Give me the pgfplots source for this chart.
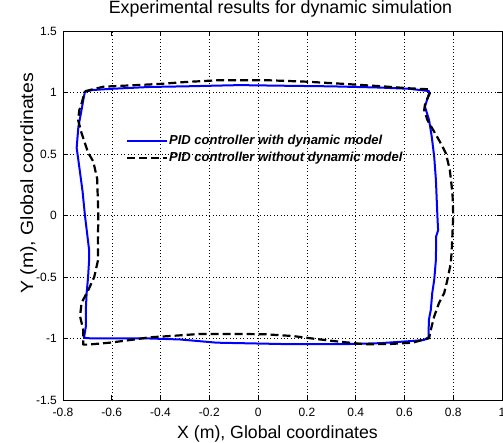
\documentclass[border=0pt]{standalone}
\usepackage{fontspec}
\setmainfont{Liberation Sans}
\usepackage{graphicx}
\usepackage{pgfplots}
\pgfplotsset{compat=1.18}
\begin{document}
\begin{tikzpicture}
\begin{axis}[
  at={(63pt,43pt)}, anchor=south west,
  scale only axis, width=439pt, height=369pt,
  xmin=-0.8, xmax=1, ymin=-1.5, ymax=1.5,
  xtick={-0.8,-0.6,-0.4,-0.2,0,0.2,0.4,0.6,0.8,1},
  ytick={-1.5,-1,-0.5,0,0.5,1,1.5},
  xticklabels={-0.8,-0.6,-0.4,-0.2,0,0.2,0.4,0.6,0.8,1},
  yticklabels={-1.5,-1,-0.5,0,0.5,1,1.5},
  tick align=inside, major tick length=5pt,
  tick style={black, line width=0.6pt},
  axis line style={black, line width=0.8pt},
  grid=major,
  major grid style={black, line width=0.5pt, dash pattern=on 0.8pt off 2.6pt},
  tick label style={font=\fontsize{12}{14}\selectfont},
  xticklabel style={anchor=base, inner sep=0pt, yshift=-17pt},
  yticklabel style={anchor=east, inner sep=0pt, xshift=-6pt},
  title={Experimental results for dynamic simulation},
  title style={font=\fontsize{17.8}{20}\selectfont, at={(axis description cs:0.5,1)}, anchor=base, yshift=11pt, xshift=-2pt, inner sep=0pt},
  xlabel={X (m), Global coordinates},
  xlabel style={font=\fontsize{17.7}{20}\selectfont, at={(axis description cs:0.5,0)}, anchor=base, yshift=-38.7pt, xshift=-5pt, inner sep=0pt},
  ylabel={\scalebox{1.1}[1]{Y (m), Global coordinates}},
  ylabel style={font=\fontsize{17.7}{20}\selectfont, at={(axis description cs:-0.0683,0.587)}, anchor=base, inner sep=0pt},
  legend cell align=left,
  legend style={at={(axis description cs:0.1435,0.7257)}, anchor=north west, draw=none, fill=none, inner sep=0pt, outer sep=0pt,
    font=\bfseries\itshape\fontsize{13}{15}\selectfont,
    nodes={inner sep=1pt, text height=11pt, text depth=4pt}},
  legend image code/.code={\draw[#1] (0pt,0pt) -- (40pt,0pt);},
]
\addplot[blue, line width=2pt, line join=round] coordinates {
(-0.71,1.005) (-0.68,1.02) (-0.6,1.03) (-0.444,1.045) (-0.3,1.05) (-0.076,1.06) (0.1,1.055) (0.3,1.05) (0.5,1.04) (0.62,1.03) (0.70,1.012) (0.702,1.0) (0.684,0.885) (0.701,0.776) (0.712,0.64) (0.722,0.478) (0.729,0.29) (0.735,0.0) (0.738,-0.12) (0.730,-0.17) (0.729,-0.36) (0.722,-0.524) (0.714,-0.63) (0.708,-0.768) (0.70,-0.85) (0.699,-0.99) (0.68,-1.012) (0.633,-1.02) (0.5,-1.038) (0.374,-1.045) (0.1,-1.045) (-0.17,-1.034) (-0.32,-1.008) (-0.444,-1.0) (-0.6,-1.0) (-0.677,-1.0) (-0.714,-0.995) (-0.706,-0.9) (-0.706,-0.75) (-0.703,-0.63) (-0.697,-0.497) (-0.693,-0.362) (-0.693,-0.28) (-0.71,0.0) (-0.72,0.2) (-0.737,0.45) (-0.744,0.55) (-0.737,0.72) (-0.724,0.858) (-0.715,0.96) (-0.71,1.005)
};
\addlegendentry{PID controller with dynamic model}
\addplot[black, line width=2.2pt, dash pattern=on 8pt off 4pt, line join=round] coordinates {
(-0.71,1.01) (-0.635,1.047) (-0.5,1.06) (-0.4,1.07) (-0.3,1.085) (-0.158,1.10) (0.033,1.10) (0.197,1.088) (0.36,1.069) (0.51,1.05) (0.62,1.034) (0.699,1.026) (0.704,0.993) (0.685,0.912) (0.681,0.858) (0.694,0.776) (0.722,0.681) (0.749,0.587) (0.77,0.505) (0.786,0.37) (0.797,0.18) (0.8,0.0) (0.794,-0.28) (0.79,-0.389) (0.776,-0.524) (0.763,-0.63) (0.742,-0.71) (0.722,-0.82) (0.708,-0.93) (0.701,-0.998) (0.633,-1.034) (0.538,-1.045) (0.44,-1.047) (0.333,-1.026) (0.238,-1.004) (0.142,-0.98) (0.033,-0.966) (-0.076,-0.963) (-0.24,-0.963) (-0.36,-0.98) (-0.444,-0.99) (-0.50,-1.006) (-0.608,-1.034) (-0.70,-1.05) (-0.717,-1.05) (-0.717,-0.93) (-0.73,-0.82) (-0.724,-0.71) (-0.697,-0.61) (-0.672,-0.5) (-0.656,-0.36) (-0.657,-0.2) (-0.655,0.0) (-0.66,0.3) (-0.676,0.44) (-0.697,0.51) (-0.724,0.67) (-0.738,0.776) (-0.733,0.858) (-0.724,0.91) (-0.71,1.01)
};
\addlegendentry{PID controller without dynamic model}
\end{axis}
\pgfresetboundingbox
\useasboundingbox (0,0) rectangle (503pt,443pt);
\end{tikzpicture}
\end{document}
